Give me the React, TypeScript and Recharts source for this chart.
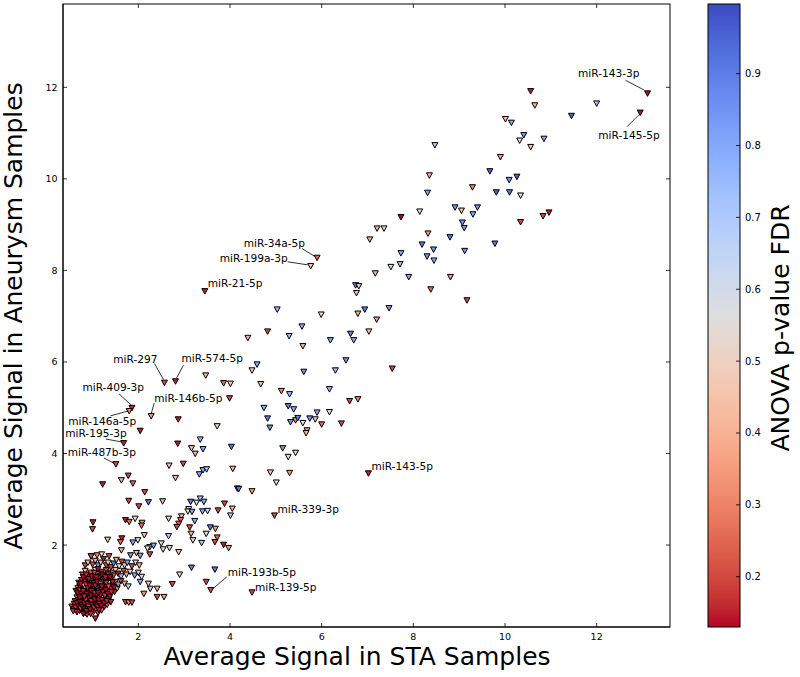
import React from "react";
import { ScatterChart, Scatter, XAxis, YAxis } from "recharts";

// [STA signal, aneurysm signal, ANOVA FDR]
type Row = [number, number, number];

const upperRange: Row[] = [
  [10.56, 11.92, 0.15], [10.65, 11.61, 0.42], [12.0, 11.65, 0.72], [11.45, 11.38, 0.95],
  [10.01, 11.31, 0.42], [10.14, 11.23, 0.8], [10.41, 10.96, 0.85], [10.32, 10.84, 0.55],
  [10.85, 10.88, 0.8], [10.56, 10.7, 0.45], [9.9, 10.48, 0.35], [9.67, 10.17, 0.95],
  [10.09, 9.98, 0.85], [10.26, 10.05, 0.95], [9.29, 9.82, 0.3], [9.81, 9.71, 0.95],
  [10.1, 9.71, 0.9], [10.34, 9.64, 0.55], [8.91, 9.38, 0.85], [9.05, 9.31, 0.45],
  [9.4, 9.38, 0.85], [9.3, 9.23, 0.8], [10.96, 9.27, 0.15], [10.83, 9.19, 0.2],
  [10.34, 9.06, 0.2], [9.07, 9.05, 0.85], [9.11, 8.93, 0.85], [8.47, 10.74, 0.7],
  [8.35, 10.08, 0.4], [8.31, 9.7, 0.8], [8.14, 9.29, 0.55], [7.73, 9.17, 0.13],
  [8.32, 8.81, 0.35], [8.8, 8.73, 0.9], [9.78, 8.59, 0.9], [8.19, 8.57, 0.9],
  [8.44, 8.46, 0.85], [9.12, 8.43, 0.85], [8.3, 8.31, 0.85], [8.45, 8.22, 0.8],
  [7.73, 8.38, 0.8], [7.71, 8.14, 0.75], [7.51, 8.08, 0.6], [7.17, 7.94, 0.4],
  [7.9, 7.86, 0.8], [8.81, 7.86, 0.35], [6.74, 7.68, 0.9], [6.81, 7.66, 0.45],
  [6.76, 7.51, 0.45], [8.38, 7.59, 0.25], [9.17, 7.35, 0.2], [7.21, 8.92, 0.4],
  [7.36, 8.92, 0.5], [7.05, 8.68, 0.4], [5.99, 7.04, 0.5], [6.79, 7.06, 0.4],
  [6.94, 7.15, 0.9], [7.47, 7.18, 0.85], [7.2, 6.93, 0.35], [7.03, 6.67, 0.45],
  [7.54, 5.86, 0.2],
];

const middleRange: Row[] = [
  [5.03, 7.15, 0.75], [5.57, 6.78, 0.8], [4.82, 6.67, 0.2], [4.39, 6.53, 0.4],
  [5.29, 6.57, 0.75], [5.59, 6.35, 0.4], [6.19, 6.48, 0.8], [6.63, 6.62, 0.9],
  [6.7, 6.48, 0.8], [4.59, 5.95, 0.8], [4.48, 5.82, 0.5], [6.53, 6.04, 0.85],
  [6.3, 5.82, 0.75], [5.61, 5.79, 0.85], [3.47, 5.71, 0.4], [3.86, 5.54, 0.25],
  [4.01, 5.53, 0.5], [4.67, 5.52, 0.45], [5.12, 5.37, 0.3], [5.3, 5.3, 0.75],
  [6.17, 5.41, 0.75], [3.99, 5.21, 0.2], [6.61, 5.15, 0.2], [6.79, 5.19, 0.3],
  [4.74, 5.0, 0.8], [5.27, 5.04, 0.9], [5.39, 4.97, 0.8], [4.82, 4.77, 0.9],
  [4.87, 4.57, 0.85], [5.32, 4.69, 0.85], [5.43, 4.73, 0.3], [5.48, 4.78, 0.9],
  [5.59, 4.67, 0.55], [5.74, 4.77, 0.85], [5.86, 4.75, 0.45], [5.9, 4.9, 0.8],
  [6.0, 4.64, 0.25], [6.17, 4.91, 0.55], [6.43, 4.66, 0.2], [5.68, 4.51, 0.35],
  [5.66, 4.45, 0.4], [3.72, 4.6, 0.5], [3.35, 4.31, 0.75], [3.16, 4.12, 0.45],
  [3.41, 4.1, 0.8], [3.24, 4.0, 0.4], [4.03, 4.15, 0.9], [5.15, 4.12, 0.85],
  [5.43, 4.02, 0.5], [5.27, 3.93, 0.55], [2.87, 4.75, 0.15], [2.04, 4.5, 0.15],
  [2.86, 4.22, 0.15], [2.67, 3.74, 0.45], [2.81, 3.47, 0.45], [2.98, 3.78, 0.2],
  [3.33, 3.55, 0.8], [3.41, 3.64, 0.8], [3.49, 3.66, 0.75], [4.06, 3.67, 0.4],
  [4.16, 3.24, 0.95], [4.19, 3.23, 0.9], [4.48, 3.18, 0.35], [4.88, 3.59, 0.45],
  [5.3, 3.58, 0.35], [5.01, 3.37, 0.55], [1.22, 3.33, 0.15], [1.63, 3.42, 0.4],
  [1.78, 3.52, 0.2], [1.88, 3.35, 0.25], [2.14, 3.16, 0.2], [1.79, 2.97, 0.2],
  [2.01, 2.85, 0.2], [2.22, 2.94, 0.9], [2.53, 2.96, 0.4],
];

const lowerRange: Row[] = [
  [3.35, 3.02, 0.7], [3.14, 2.95, 0.9], [3.27, 2.93, 0.6], [3.43, 2.95, 0.8],
  [3.1, 2.79, 0.45], [3.08, 2.74, 0.55], [3.17, 2.73, 0.8], [3.4, 2.74, 0.8],
  [3.51, 2.75, 0.6], [3.74, 2.76, 0.2], [3.88, 2.91, 0.2], [4.05, 2.8, 0.4],
  [4.01, 2.65, 0.7], [2.94, 2.63, 0.4], [2.92, 2.55, 0.25], [2.66, 2.58, 0.5],
  [2.88, 2.47, 0.25], [2.84, 2.4, 0.2], [3.23, 2.53, 0.8], [3.12, 2.39, 0.2],
  [3.15, 2.25, 0.4], [3.57, 2.39, 0.9], [3.68, 2.36, 0.35], [3.48, 2.25, 0.55],
  [3.72, 2.17, 0.25], [3.67, 2.07, 0.2], [3.38, 2.05, 0.7], [3.19, 2.11, 0.55],
  [3.86, 2.01, 0.15], [3.97, 1.94, 0.35], [1.93, 2.58, 0.5], [1.72, 2.55, 0.15],
  [1.8, 2.51, 0.25], [2.08, 2.49, 0.35], [2.07, 2.43, 0.25], [2.13, 2.22, 0.45],
  [1.33, 2.12, 0.45], [1.64, 2.15, 0.15], [1.61, 2.07, 0.25], [1.88, 2.06, 0.8],
  [1.99, 2.11, 0.55], [2.25, 1.96, 0.55], [2.33, 1.99, 0.8], [2.5, 2.04, 0.55],
  [2.66, 2.2, 0.7], [2.68, 1.94, 0.55], [1.01, 2.5, 0.15], [1.0, 2.35, 0.2],
  [0.97, 1.76, 0.2], [1.63, 1.89, 0.4], [1.83, 1.78, 0.85], [1.96, 1.83, 0.45],
  [2.04, 1.77, 0.8], [2.2, 1.93, 0.55], [2.25, 1.8, 0.2], [2.54, 1.91, 0.55],
  [2.88, 1.85, 0.45], [2.74, 1.15, 0.2], [2.56, 0.87, 0.35], [2.41, 0.87, 0.2],
  [1.72, 0.76, 0.2], [1.79, 0.75, 0.35], [1.86, 0.75, 0.2], [2.12, 0.94, 0.35],
  [2.26, 1.05, 0.7], [2.41, 1.05, 0.4], [2.22, 1.16, 0.45], [2.04, 1.2, 0.8],
  [2.07, 1.31, 0.6], [3.48, 1.2, 0.2], [3.67, 1.47, 0.9], [3.16, 1.51, 0.9],
  [2.9, 1.36, 0.5],
];

const lowCluster: Row[] = [
  [0.55, 0.66, 0.2], [0.59, 0.6, 0.15], [0.64, 0.68, 0.25], [0.68, 0.62, 0.15],
  [0.72, 0.57, 0.2], [0.76, 0.66, 0.15], [0.8, 0.58, 0.3], [0.84, 0.52, 0.15],
  [0.88, 0.49, 0.2], [0.9, 0.62, 0.15], [0.94, 0.56, 0.45], [0.98, 0.66, 0.15],
  [1.02, 0.54, 0.2], [1.06, 0.4, 0.15], [1.08, 0.6, 0.85], [1.12, 0.52, 0.2],
  [1.16, 0.64, 0.15], [1.2, 0.58, 0.25], [1.26, 0.66, 0.15], [0.7, 0.7, 0.2],
  [0.78, 0.72, 0.35], [0.86, 0.68, 0.15], [1.0, 0.72, 0.2], [1.32, 0.7, 0.2],
  [0.62, 0.78, 0.15], [0.66, 0.86, 0.2], [0.72, 0.8, 0.15], [0.76, 0.88, 0.25],
  [0.8, 0.78, 0.15], [0.84, 0.84, 0.2], [0.86, 0.76, 0.5], [0.9, 0.88, 0.15],
  [0.92, 0.8, 0.2], [0.96, 0.74, 0.15], [0.98, 0.86, 0.3], [1.02, 0.8, 0.15],
  [1.04, 0.9, 0.2], [1.08, 0.76, 0.15], [1.1, 0.84, 0.75], [1.14, 0.88, 0.2],
  [1.18, 0.78, 0.15], [1.22, 0.86, 0.4], [1.26, 0.8, 0.2], [1.3, 0.9, 0.15],
  [1.36, 0.82, 0.2], [1.4, 0.76, 0.15], [0.7, 0.92, 0.55], [0.94, 0.94, 0.15],
  [1.0, 0.96, 0.9], [1.2, 0.94, 0.2], [0.64, 1.0, 0.15], [0.68, 1.06, 0.4],
  [0.74, 0.98, 0.2], [0.78, 1.04, 0.15], [0.82, 0.96, 0.25], [0.86, 1.02, 0.15],
  [0.88, 1.1, 0.2], [0.92, 1.0, 0.8], [0.96, 1.06, 0.15], [1.0, 1.02, 0.2],
  [1.04, 1.08, 0.15], [1.06, 0.98, 0.45], [1.1, 1.04, 0.2], [1.14, 1.0, 0.15],
  [1.16, 1.08, 0.9], [1.2, 1.02, 0.2], [1.24, 1.08, 0.15], [1.28, 0.98, 0.3],
  [1.32, 1.06, 0.2], [1.36, 1.0, 0.55], [1.42, 1.04, 0.2], [1.48, 0.98, 0.15],
  [1.54, 1.06, 0.35], [0.72, 1.1, 0.15], [0.84, 1.08, 0.6], [0.7, 1.18, 0.2],
  [0.76, 1.24, 0.15], [0.8, 1.14, 0.35], [0.84, 1.2, 0.15], [0.88, 1.28, 0.2],
  [0.92, 1.16, 0.15], [0.96, 1.22, 0.7], [1.0, 1.14, 0.15], [1.04, 1.26, 0.2],
  [1.08, 1.18, 0.15], [1.12, 1.24, 0.45], [1.16, 1.14, 0.2], [1.2, 1.28, 0.15],
  [1.24, 1.2, 0.85], [1.28, 1.14, 0.2], [1.32, 1.24, 0.15], [1.36, 1.18, 0.5],
  [1.4, 1.26, 0.2], [1.44, 1.12, 0.15], [1.5, 1.2, 0.3], [1.56, 1.14, 0.8],
  [1.62, 1.22, 0.2], [1.7, 1.16, 0.4], [1.78, 1.1, 0.6], [0.78, 1.36, 0.2],
  [0.84, 1.44, 0.4], [0.9, 1.34, 0.15], [0.96, 1.4, 0.25], [1.02, 1.32, 0.15],
  [1.06, 1.46, 0.55], [1.1, 1.38, 0.2], [1.16, 1.32, 0.9], [1.2, 1.42, 0.15],
  [1.24, 1.36, 0.3], [1.3, 1.46, 0.2], [1.34, 1.32, 0.15], [1.4, 1.4, 0.7],
  [1.46, 1.34, 0.2], [1.5, 1.46, 0.45], [1.56, 1.38, 0.15], [1.62, 1.32, 0.75],
  [1.68, 1.44, 0.2], [1.74, 1.36, 0.35], [1.82, 1.42, 0.55], [1.92, 1.34, 0.8],
  [2.0, 1.4, 0.45], [1.3, 1.56, 0.2], [0.84, 1.56, 0.2], [0.9, 1.62, 0.45],
  [1.0, 1.58, 0.2], [1.06, 1.66, 0.35], [1.12, 1.56, 0.85], [1.18, 1.62, 0.4],
  [1.24, 1.7, 0.15], [1.34, 1.62, 0.5], [1.4, 1.52, 0.2], [1.46, 1.6, 0.9],
  [1.52, 1.68, 0.35], [1.58, 1.54, 0.55], [1.64, 1.64, 0.2], [1.7, 1.56, 0.45],
  [1.76, 1.62, 0.8], [1.86, 1.54, 0.2], [1.94, 1.62, 0.6], [2.02, 1.56, 0.4],
  [1.1, 1.78, 0.3], [1.2, 1.8, 0.5], [1.36, 1.76, 0.2], [0.97, 1.76, 0.2],
];

// the dark core of the low-signal cluster
const clusterCore: Row[] = [
  [0.6, 0.72, 0.14], [0.63, 0.64, 0.18], [0.67, 0.74, 0.13], [0.7, 0.66, 0.16],
  [0.73, 0.76, 0.14], [0.74, 0.62, 0.2], [0.77, 0.7, 0.13], [0.79, 0.64, 0.17],
  [0.82, 0.74, 0.15], [0.83, 0.6, 0.13], [0.85, 0.8, 0.18], [0.87, 0.56, 0.14],
  [0.89, 0.72, 0.13], [0.91, 0.66, 0.2], [0.93, 0.84, 0.14], [0.95, 0.6, 0.13],
  [0.97, 0.78, 0.16], [0.99, 0.7, 0.14], [1.01, 0.88, 0.13], [1.03, 0.64, 0.17],
  [1.05, 0.82, 0.14], [1.07, 0.7, 0.13], [1.09, 0.94, 0.18], [1.11, 0.66, 0.15],
  [1.13, 0.8, 0.13], [1.15, 0.72, 0.2], [1.17, 0.92, 0.14], [1.19, 0.68, 0.13],
  [1.21, 0.8, 0.16], [1.23, 0.98, 0.14], [1.25, 0.74, 0.13], [1.27, 0.9, 0.18],
  [1.29, 1.02, 0.13], [1.31, 0.78, 0.15], [1.33, 0.94, 0.14], [1.35, 1.1, 0.2],
  [1.38, 0.88, 0.13], [1.41, 0.98, 0.16], [1.44, 1.2, 0.14], [1.47, 1.08, 0.13],
  [0.68, 0.96, 0.14], [0.72, 1.02, 0.17], [0.76, 0.94, 0.13], [0.8, 1.0, 0.15],
  [0.83, 0.9, 0.13], [0.86, 1.14, 0.18], [0.9, 1.06, 0.14], [0.94, 1.12, 0.13],
  [0.98, 1.0, 0.16], [1.02, 1.18, 0.13], [1.06, 1.12, 0.15], [1.1, 1.2, 0.14],
  [1.14, 1.3, 0.13], [1.18, 1.16, 0.2], [1.22, 1.34, 0.14], [1.26, 1.26, 0.13],
  [1.3, 1.18, 0.17], [1.34, 1.38, 0.13], [0.74, 1.16, 0.14], [0.8, 1.3, 0.13],
  [0.86, 1.36, 0.16], [0.92, 1.26, 0.14], [0.98, 1.32, 0.13], [1.04, 1.4, 0.18],
  [1.08, 1.3, 0.14], [1.12, 1.48, 0.13], [0.88, 0.94, 0.14], [0.96, 0.9, 0.13],
  [1.04, 0.96, 0.16], [0.58, 0.56, 0.17], [0.66, 0.54, 0.14], [0.8, 0.5, 0.13],
  [0.96, 0.5, 0.16], [1.14, 0.58, 0.14], [0.72, 0.86, 0.13], [0.82, 0.88, 0.16],
  [1.12, 0.96, 0.13], [1.2, 1.1, 0.14], [1.28, 1.3, 0.16], [1.38, 1.3, 0.13],
];

const labelNames = [
  "miR-143-3p", "miR-145-5p", "miR-34a-5p", "miR-199a-3p", "miR-21-5p", "miR-297",
  "miR-574-5p", "miR-409-3p", "miR-146a-5p", "miR-146b-5p", "miR-195-3p",
  "miR-487b-3p", "miR-143-5p", "miR-339-3p", "miR-193b-5p", "miR-139-5p",
];
const labelSta = [13.11, 12.95, 5.9, 5.76, 3.45, 2.57, 2.81, 1.86, 1.8, 2.28, 1.68, 1.51, 7.02, 4.97, 3.58, 4.48];
const labelAneurysm = [11.87, 11.45, 8.28, 8.1, 7.55, 5.55, 5.58, 5.0, 4.93, 4.82, 4.23, 3.77, 3.57, 2.65, 1.02, 0.97];
const labelFdr = [0.13, 0.14, 0.25, 0.45, 0.15, 0.2, 0.15, 0.15, 0.3, 0.35, 0.15, 0.2, 0.15, 0.2, 0.2, 0.2];

const xTicks = [2, 4, 6, 8, 10, 12];
const yTicks = [2, 4, 6, 8, 10, 12];
const fdrTicks = [0.2, 0.3, 0.4, 0.5, 0.6, 0.7, 0.8, 0.9];

const X_DOMAIN: [number, number] = [0.356, 13.6];
const Y_DOMAIN: [number, number] = [0.21, 13.82];
const FDR_MIN = 0.13;
const FDR_MAX = 0.997;

const FONT = "'DejaVu Sans', sans-serif";
const PLOT = { left: 63, top: 4, right: 670, bottom: 627 };

// matplotlib coolwarm, blue end first
const COOLWARM = [
  [59, 76, 192], [68, 90, 204], [77, 104, 215], [87, 117, 225], [98, 130, 234],
  [108, 142, 241], [119, 154, 247], [130, 165, 251], [141, 176, 254], [152, 185, 255],
  [163, 194, 255], [174, 201, 253], [184, 208, 249], [194, 213, 244], [204, 217, 238],
  [213, 219, 230], [221, 221, 221], [229, 216, 209], [236, 211, 197], [241, 204, 185],
  [245, 196, 173], [247, 187, 160], [247, 177, 148], [247, 166, 135], [244, 154, 123],
  [241, 141, 111], [236, 127, 99], [229, 112, 88], [222, 96, 77], [213, 80, 66],
  [203, 62, 56], [192, 40, 47], [180, 4, 38],
];

const fdrColor = (p: number) => {
  const t = Math.min(1, Math.max(0, (p - FDR_MIN) / (FDR_MAX - FDR_MIN)));
  const u = (1 - t) * (COOLWARM.length - 1);
  const i = Math.floor(u);
  const f = u - i;
  const a = COOLWARM[i];
  const b = COOLWARM[Math.min(i + 1, COOLWARM.length - 1)];
  const c = a.map((v, k) => Math.round(v + (b[k] - v) * f));
  return `rgb(${c[0]},${c[1]},${c[2]})`;
};

const toPoints = (rows: Row[]) => rows.map(([sta, aneurysm, fdr]) => ({ sta, aneurysm, fdr }));
const points = [
  ...toPoints(lowCluster),
  ...toPoints(clusterCore),
  ...toPoints(lowerRange),
  ...toPoints(middleRange),
  ...toPoints(upperRange),
];
const labelled = labelNames.map((name, i) => ({ name, sta: labelSta[i], aneurysm: labelAneurysm[i], fdr: labelFdr[i] }));

// text placement around each annotated point, in pixels
const LABEL_LAYOUT: Record<string, { dx: number; dy: number; anchor: "start" | "end"; line?: number[] }> = {
  "miR-143-3p": { dx: -8, dy: -20, anchor: "end", line: [-22, -13, -3, -3] },
  "miR-145-5p": { dx: -42, dy: 23, anchor: "start", line: [-13, 14, -1, 2] },
  "miR-34a-5p": { dx: -12, dy: -15, anchor: "end", line: [-15, -9, -2, -1] },
  "miR-199a-3p": { dx: -23, dy: -8, anchor: "end", line: [-23, -4, -3, -1] },
  "miR-21-5p": { dx: 3, dy: -8, anchor: "start" },
  "miR-297": { dx: -7, dy: -24, anchor: "end", line: [-10, -19, -1, -3] },
  "miR-574-5p": { dx: 6, dy: -23, anchor: "start", line: [8, -16, 1, -3] },
  "miR-409-3p": { dx: 12, dy: -21, anchor: "end", line: [-13, -14, 0, -2] },
  "miR-146a-5p": { dx: 7, dy: 10, anchor: "end", line: [-19, 5, -1, 0] },
  "miR-146b-5p": { dx: 3, dy: -18, anchor: "start", line: [3, -13, 0, -2] },
  "miR-195-3p": { dx: 3, dy: -10, anchor: "end", line: [-18, -4, -2, -1] },
  "miR-487b-3p": { dx: 20, dy: -12, anchor: "end", line: [-12, -6, -2, -1] },
  "miR-143-5p": { dx: 3, dy: -7, anchor: "start" },
  "miR-339-3p": { dx: 3, dy: -6, anchor: "start" },
  "miR-193b-5p": { dx: 17, dy: -18, anchor: "start", line: [16, -13, 3, -2] },
  "miR-139-5p": { dx: 3, dy: -5, anchor: "start" },
};

const Triangle = ({ cx, cy, fdr }: { cx: number; cy: number; fdr: number }) => (
  <path
    d={`M${cx - 3},${cy - 2.4}L${cx + 3},${cy - 2.4}L${cx},${cy + 3.1}Z`}
    fill={fdrColor(fdr)}
    stroke="#000"
    strokeWidth={1}
    strokeLinejoin="miter"
  />
);

const PointShape = (props: any) => {
  const { cx, cy, payload } = props;
  if (cx == null || cy == null) return null;
  return <Triangle cx={cx} cy={cy} fdr={payload.fdr} />;
};

const LabelledShape = (props: any) => {
  const { cx, cy, payload } = props;
  if (cx == null || cy == null) return null;
  const lay = LABEL_LAYOUT[payload.name];
  return (
    <g>
      <Triangle cx={cx} cy={cy} fdr={payload.fdr} />
      {lay.line && (
        <line
          x1={cx + lay.line[0]}
          y1={cy + lay.line[1]}
          x2={cx + lay.line[2]}
          y2={cy + lay.line[3]}
          stroke="#000"
          strokeWidth={0.8}
        />
      )}
      <text
        x={cx + lay.dx}
        y={cy + lay.dy}
        textAnchor={lay.anchor}
        dominantBaseline="central"
        fontFamily={FONT}
        fontSize={10.6}
        fill="#000"
      >
        {payload.name}
      </text>
    </g>
  );
};

// ticks point inward, mirrored on the opposite spine
const BottomTick = ({ x, y, payload }: any) => (
  <g>
    <line x1={x} y1={y} x2={x} y2={y - 4} stroke="#000" strokeWidth={0.8} />
    <line x1={x} y1={PLOT.top} x2={x} y2={PLOT.top + 4} stroke="#000" strokeWidth={0.8} />
    <text x={x} y={y + 12.5} textAnchor="middle" fontFamily={FONT} fontSize={9.5} fill="#000">
      {payload.value}
    </text>
  </g>
);

const LeftTick = ({ x, y, payload }: any) => (
  <g>
    <line x1={x} y1={y} x2={x + 4} y2={y} stroke="#000" strokeWidth={0.8} />
    <line x1={PLOT.right} y1={y} x2={PLOT.right - 4} y2={y} stroke="#000" strokeWidth={0.8} />
    <text x={x - 5.5} y={y} textAnchor="end" dominantBaseline="central" fontFamily={FONT} fontSize={9.5} fill="#000">
      {payload.value}
    </text>
  </g>
);

const BAR = { x: 708, y: 4, w: 32, h: 623 };
const barY = (p: number) => BAR.y + BAR.h - ((p - FDR_MIN) / (FDR_MAX - FDR_MIN)) * BAR.h;

const Overlay = () => (
  <svg width={800} height={677} style={{ position: "absolute", left: 0, top: 0, pointerEvents: "none" }}>
    <defs>
      <linearGradient id="coolwarm" x1="0" y1="0" x2="0" y2="1">
        {COOLWARM.map((c, i) => (
          <stop key={i} offset={i / (COOLWARM.length - 1)} stopColor={`rgb(${c[0]},${c[1]},${c[2]})`} />
        ))}
      </linearGradient>
    </defs>
    <rect
      x={PLOT.left}
      y={PLOT.top}
      width={PLOT.right - PLOT.left}
      height={PLOT.bottom - PLOT.top}
      fill="none"
      stroke="#000"
      strokeWidth={1}
    />
    <rect x={BAR.x} y={BAR.y} width={BAR.w} height={BAR.h} fill="url(#coolwarm)" stroke="#000" strokeWidth={1} />
    {fdrTicks.map((t) => (
      <g key={t}>
        <line x1={BAR.x + BAR.w - 4} x2={BAR.x + BAR.w} y1={barY(t)} y2={barY(t)} stroke="#000" strokeWidth={0.8} />
        <text x={BAR.x + BAR.w + 5} y={barY(t)} dominantBaseline="central" fontFamily={FONT} fontSize={10} fill="#000">
          {t.toFixed(1)}
        </text>
      </g>
    ))}
    <text transform="translate(789,328) rotate(-90)" textAnchor="middle" fontFamily={FONT} fontSize={25} fill="#000">
      ANOVA p-value FDR
    </text>
    <text x={357} y={665} textAnchor="middle" fontFamily={FONT} fontSize={25} fill="#000">
      Average Signal in STA Samples
    </text>
    <text transform="translate(22,316) rotate(-90)" textAnchor="middle" fontFamily={FONT} fontSize={25} fill="#000">
      Average Signal in Aneurysm Samples
    </text>
  </svg>
);

export default function App() {
  const axisLine = { stroke: "#000", strokeWidth: 1 };
  return (
    <div style={{ position: "absolute", left: 0, top: 0, width: 800, height: 677, background: "#fff" }}>
      <ScatterChart width={800} height={677} margin={{ top: PLOT.top, right: 800 - PLOT.right, bottom: 0, left: 0 }}>
        <XAxis
          type="number"
          dataKey="sta"
          domain={X_DOMAIN}
          allowDataOverflow
          ticks={xTicks}
          interval={0}
          height={677 - PLOT.bottom}
          tickSize={0}
          tickMargin={0}
          tickLine={false}
          axisLine={axisLine}
          tick={(p: any) => <BottomTick {...p} />}
        />
        <YAxis
          type="number"
          dataKey="aneurysm"
          domain={Y_DOMAIN}
          allowDataOverflow
          ticks={yTicks}
          interval={0}
          width={PLOT.left}
          tickSize={0}
          tickMargin={0}
          tickLine={false}
          axisLine={axisLine}
          tick={(p: any) => <LeftTick {...p} />}
        />
        <Scatter data={points} shape={PointShape} isAnimationActive={false} />
        <Scatter data={labelled} shape={LabelledShape} isAnimationActive={false} />
      </ScatterChart>
      <Overlay />
    </div>
  );
}
